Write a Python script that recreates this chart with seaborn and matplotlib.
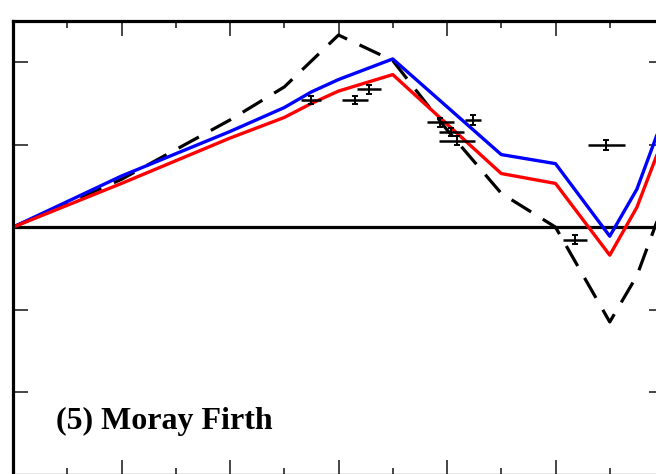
import matplotlib
matplotlib.use('Agg')
import matplotlib.pyplot as plt
from matplotlib.ticker import MultipleLocator, NullFormatter
import seaborn as sns

# model curves (x in axis units, 0..6)
x_model = [0, 1, 2, 2.5, 3, 3.5, 4, 4.5, 5, 5.5, 5.75, 6.0]
y_dashed = [0, 0.58, 1.30, 1.70, 2.33, 2.02, 1.18, 0.41, 0.0, -1.15, -0.59, 0.30]
x_lines = [0, 1, 2, 2.5, 2.75, 3, 3.5, 4.5, 5, 5.5, 5.75, 6.0]
y_blue = [0, 0.62, 1.16, 1.45, 1.64, 1.79, 2.04, 0.88, 0.77, -0.11, 0.46, 1.35]
y_red = [0, 0.53, 1.08, 1.33, 1.50, 1.65, 1.85, 0.65, 0.53, -0.34, 0.24, 1.10]

# observations with errors
obs_x = [2.75, 3.15, 3.28, 3.94, 4.24, 4.04, 4.09, 5.47, 5.18]
obs_y = [1.54, 1.54, 1.67, 1.27, 1.30, 1.15, 1.05, 1.00, -0.15]
obs_xerr = [0.092, 0.12, 0.11, 0.12, 0.075, 0.115, 0.165, 0.17, 0.11]
obs_yerr = [0.05, 0.05, 0.05, 0.05, 0.06, 0.05, 0.05, 0.06, 0.05]

label = '(5) Moray Firth'

sns.set_style('ticks')
plt.rcParams['font.family'] = ['Liberation Serif', 'DejaVu Serif']

fig = plt.figure(figsize=(6.56, 4.74), dpi=100)
ax = fig.add_axes([13 / 656, -0.5 / 474, 651 / 656, 453.5 / 474])

ax.axhline(0, color='black', lw=2.3, zorder=1)

sns.lineplot(x=x_model, y=y_dashed, color='black', lw=2.3,
             linestyle=(0, (7.2, 4.3)), sort=False, ax=ax)
sns.lineplot(x=x_lines, y=y_blue, color='#0000ff', lw=2.4, sort=False, ax=ax)
sns.lineplot(x=x_lines, y=y_red, color='#ff0000', lw=2.4, sort=False, ax=ax)

ax.errorbar(obs_x, obs_y, xerr=obs_xerr, fmt='none', ecolor='black',
            elinewidth=1.8, capsize=0, zorder=5)
ax.errorbar(obs_x, obs_y, yerr=obs_yerr, fmt='none', ecolor='black',
            elinewidth=1.4, capsize=2, capthick=1.4, zorder=5)

ax.text(0.40, -2.45, label, fontsize=23, fontweight='bold',
        family=['Liberation Serif', 'DejaVu Serif'], color='black')

ax.set_xlim(0, 6)
ax.set_ylim(-3, 2.5)
ax.xaxis.set_major_locator(MultipleLocator(1))
ax.xaxis.set_minor_locator(MultipleLocator(0.5))
ax.yaxis.set_major_locator(MultipleLocator(1))
ax.xaxis.set_major_formatter(NullFormatter())
ax.yaxis.set_major_formatter(NullFormatter())
ax.tick_params(which='both', direction='in', top=True, right=True,
               bottom=True, left=True, labelbottom=False, labelleft=False)
ax.tick_params(which='major', length=10.8, width=1.2)
ax.tick_params(which='minor', length=5, width=1.2)
for s in ax.spines.values():
    s.set_linewidth(2.3)
    s.set_color('black')
ax.set_xlabel('')
ax.set_ylabel('')

fig.savefig('out.png', dpi=100)
